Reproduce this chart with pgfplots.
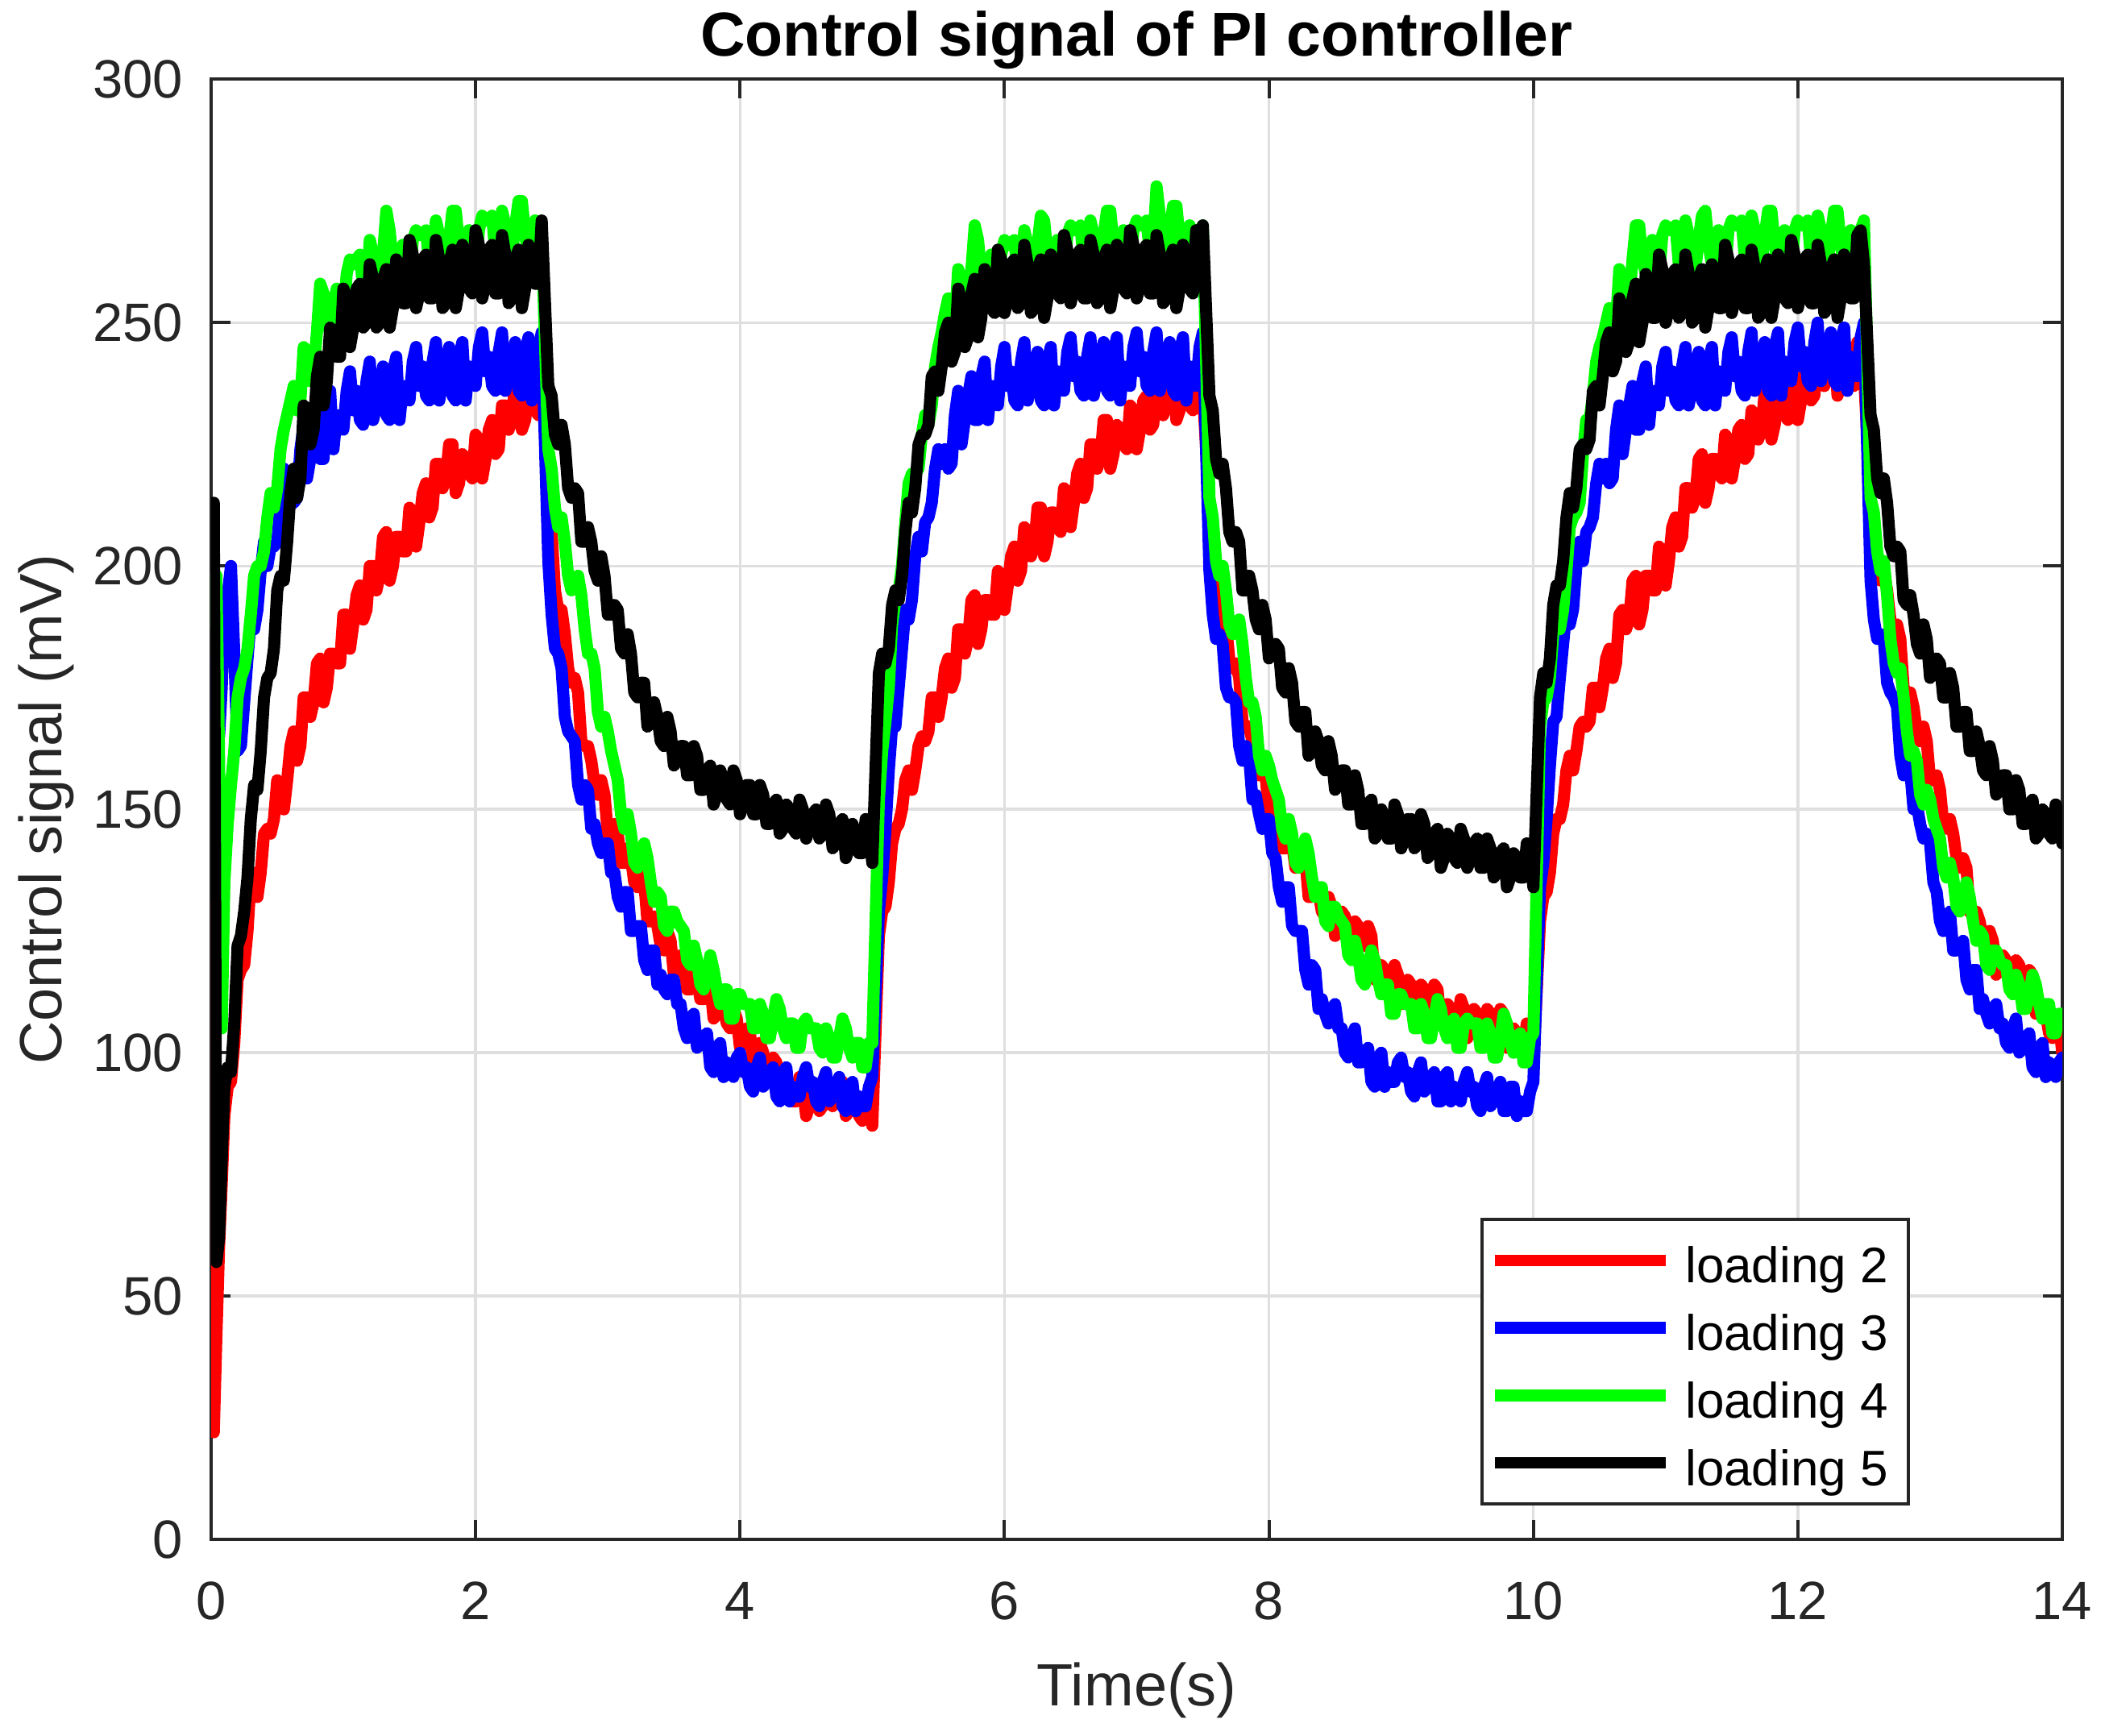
\documentclass[border=0pt]{standalone}
\usepackage{fontspec}
\setmainfont{Liberation Sans}
\usepackage{pgfplots}
\usepackage{pgfplotstable}
\pgfplotsset{compat=1.18}
\definecolor{axgray}{HTML}{262626}
\definecolor{gridgray}{HTML}{DFDFDF}
\definecolor{mred}{rgb}{1,0,0}
\definecolor{mblue}{rgb}{0,0,1}
\definecolor{mgreen}{rgb}{0,1,0}

\pgfplotstableread{
t r b g k
0.00 130 170 190 195
0.02 22 180 197 213
0.04 42 172 198 57
0.06 60 165 160 62
0.08 73 175 105 78
0.10 87 190 135 93
0.125 93 194 147 97
0.15 94 200 155 96
0.175 102 182 162 106
0.20 115 162 173 122
0.225 117 163 177 124
0.25 118 172 179 129
0.275 125 181 183 136
0.30 136 189 190 148
0.325 137 187 198 155
0.35 132 191 200 154
0.375 137 199 200 162
0.40 145 205 203 173
0.425 146 200 210 177
0.45 145 204 215 178
0.475 148 204 212 183
0.50 156 205 216 195
0.525 155 213 224 198
0.55 150 220 228 197
0.575 156 216 231 205
0.60 163 218 234 215
0.625 166 213 237 220
0.65 160 214 232 214
0.675 163 224 234 218
0.70 173 229 245 233
0.725 173 218 244 232
0.75 169 222 238 225
0.775 172 227 240 228
0.80 180 231 248 239
0.825 181 222 258 243
0.85 172 222 256 233
0.875 175 232 250 238
0.90 182 236 248 249
0.925 182 224 254 248
0.95 180 231 257 243
0.975 180 229 248 243
1.00 190 228 250 257
1.025 190 236 260 255
1.05 183 240 263 245
1.075 188 232 262 249
1.10 194 236 263 257
1.125 196 230 264 258
1.15 189 229 257 249
1.175 191 238 257 250
1.20 200 242 267 262
1.225 200 230 264 259
1.25 195 233 256 249
1.275 198 237 257 250
1.30 206 241 264 259
1.325 207 231 273 261
1.35 197 230 269 249
1.375 200 240 262 253
1.40 206 243 259 263
1.425 206 230 264 261
1.45 203 237 266 254
1.475 203 235 256 254
1.50 212 234 258 267
1.525 211 242 267 264
1.55 204 245 269 253
1.575 209 237 268 256
1.60 215 241 268 263
1.625 217 235 269 264
1.65 210 234 262 255
1.675 212 242 262 255
1.70 221 246 271 267
1.725 221 234 268 263
1.75 216 238 260 253
1.775 218 242 261 254
1.80 225 245 267 262
1.825 225 235 273 265
1.85 215 234 273 253
1.875 217 243 266 257
1.90 223 246 262 266
1.925 222 234 267 264
1.95 219 241 269 257
1.975 218 238 259 256
2.00 227 237 260 269
2.025 226 245 269 266
2.05 218 248 272 255
2.075 222 240 271 258
2.10 228 243 271 265
2.125 230 237 272 266
2.15 223 236 264 256
2.175 224 244 264 256
2.20 233 248 273 268
2.225 233 236 270 264
2.25 228 239 263 254
2.275 230 243 264 255
2.30 238 246 270 263
2.325 238 236 275 265
2.35 228 235 275 253
2.375 230 244 268 257
2.40 236 247 264 266
2.425 235 234 269 264
2.45 232 241 271 258
2.475 231 244 264 258
2.50 240 248 268 271
2.55 214 201 224 237
2.575 207 190 220 235
2.60 195 183 212 227
2.625 191 182 208 225
2.65 191 179 210 229
2.675 186 169 205 225
2.70 179 166 198 216
2.725 176 165 195 214
2.75 177 164 196 216
2.775 174 155 198 215
2.80 164 152 194 205
2.825 163 155 187 205
2.85 163 154 182 208
2.875 160 146 182 205
2.90 155 147 179 199
2.925 153 143 170 197
2.95 156 141 167 202
2.975 153 143 169 198
3.00 145 143 166 190
3.025 145 137 162 190
3.05 147 137 159 192
3.075 145 132 156 191
3.10 139 130 149 183
3.125 139 133 146 182
3.15 142 133 149 186
3.175 140 125 145 182
3.20 135 125 139 174
3.225 134 126 138 173
3.25 137 126 140 176
3.275 135 119 143 176
3.30 127 117 140 167
3.325 127 121 135 168
3.35 128 121 131 172
3.375 126 114 133 169
3.40 122 116 132 164
3.425 121 113 126 163
3.45 125 112 125 169
3.475 123 115 129 166
3.50 116 115 129 159
3.525 117 110 127 160
3.55 120 110 126 163
3.575 119 105 125 163
3.60 113 103 119 157
3.625 113 107 118 157
3.65 117 108 122 163
3.675 115 101 119 161
3.70 111 102 114 154
3.725 111 103 113 154
3.75 115 104 116 158
3.775 114 97 120 159
3.80 107 96 117 151
3.825 108 101 113 153
3.85 110 102 110 158
3.875 109 95 113 156
3.90 106 98 113 152
3.925 105 96 107 151
3.95 109 95 107 158
3.975 107 99 112 156
4.00 101 100 112 149
4.025 102 96 110 151
4.05 105 97 110 155
4.075 104 93 110 155
4.10 98 92 105 149
4.125 98 97 105 149
4.15 102 99 110 155
4.175 100 93 108 153
4.20 96 94 103 147
4.225 96 96 103 147
4.25 99 97 107 151
4.275 98 91 111 152
4.30 91 90 109 145
4.325 92 96 105 146
4.35 94 97 103 151
4.375 93 90 106 150
4.40 90 93 106 146
4.425 90 91 101 145
4.45 95 91 101 152
4.475 93 95 106 150
4.50 87 97 107 144
4.525 89 93 105 146
4.55 93 94 105 149
4.575 93 90 105 150
4.60 88 89 101 144
4.625 89 94 100 145
4.65 93 96 105 151
4.675 92 90 103 149
4.70 89 91 99 142
4.725 90 93 99 143
4.75 94 95 103 147
4.775 94 89 107 148
4.80 87 88 105 140
4.825 88 93 101 142
4.85 90 94 99 147
4.875 90 88 102 145
4.90 87 91 102 141
4.925 86 89 97 141
4.95 91 89 97 148
4.975 90 93 102 146
5.00 85 95 102 139
5.05 124 129 152 178
5.075 129 136 162 182
5.10 130 146 168 180
5.125 135 158 175 183
5.15 143 167 188 192
5.175 146 167 193 195
5.20 147 175 195 193
5.225 150 183 200 198
5.25 156 191 209 207
5.275 158 189 217 213
5.30 154 193 219 211
5.325 158 202 219 216
5.35 163 206 220 225
5.375 165 203 227 227
5.40 164 209 231 227
5.425 166 210 229 229
5.45 173 213 233 239
5.475 173 220 241 240
5.50 169 224 245 236
5.525 173 221 248 241
5.55 179 224 252 248
5.575 181 220 255 250
5.60 175 221 249 242
5.625 177 231 250 244
5.65 187 236 261 257
5.675 187 225 259 254
5.70 182 230 252 245
5.725 185 235 254 247
5.75 193 239 261 256
5.775 194 230 270 259
5.80 184 230 267 247
5.825 187 239 260 251
5.85 193 242 256 261
5.875 193 230 261 259
5.90 190 237 264 253
5.925 190 234 254 252
5.95 199 233 255 265
5.975 198 241 264 263
6.00 191 245 267 252
6.025 196 237 266 255
6.05 202 240 266 262
6.075 204 234 267 263
6.10 197 233 260 253
6.125 199 242 260 254
6.15 208 246 269 266
6.175 207 234 266 262
6.20 202 237 258 252
6.225 204 241 259 253
6.25 212 244 266 261
6.275 212 234 272 263
6.30 202 233 271 251
6.325 205 242 264 255
6.35 211 245 260 264
6.375 211 233 265 262
6.40 208 240 267 256
6.425 207 237 257 255
6.45 216 236 259 268
6.475 215 244 268 265
6.50 208 247 270 254
6.525 213 239 269 257
6.55 219 242 269 264
6.575 221 236 270 265
6.60 214 235 262 255
6.625 216 243 262 255
6.65 225 247 271 267
6.675 225 235 268 264
6.70 220 239 261 254
6.725 222 243 262 255
6.75 230 246 268 263
6.775 230 236 273 265
6.80 220 235 273 253
6.825 223 244 266 257
6.85 229 247 262 266
6.875 228 234 267 264
6.90 225 241 269 257
6.925 224 238 259 256
6.95 233 237 260 269
6.975 232 245 269 266
7.00 224 248 271 255
7.025 228 240 270 258
7.05 234 243 270 265
7.075 235 237 271 266
7.10 228 236 264 256
7.125 229 244 266 256
7.15 238 248 278 268
7.175 237 236 272 264
7.20 231 239 262 254
7.225 233 243 263 255
7.25 240 246 269 263
7.275 240 236 274 265
7.30 230 235 274 253
7.325 232 244 267 257
7.35 237 247 263 266
7.375 236 234 268 264
7.40 233 241 270 257
7.425 232 238 260 256
7.45 241 237 261 269
7.475 242 245 269 266
7.50 236 248 270 270
7.55 212 199 214 235
7.575 206 190 210 232
7.60 195 185 201 222
7.625 192 186 198 219
7.65 192 184 200 221
7.675 188 175 195 216
7.70 181 173 188 207
7.725 179 173 186 205
7.75 180 172 187 207
7.775 177 163 189 205
7.80 168 160 184 195
7.825 167 163 177 195
7.85 167 161 172 198
7.875 164 152 172 195
7.90 159 153 169 189
7.925 157 149 161 187
7.95 160 146 158 192
7.975 157 148 161 189
8.00 149 148 159 181
8.025 149 141 156 182
8.05 151 140 154 184
8.075 149 134 152 183
8.10 142 131 146 175
8.125 142 134 144 174
8.15 145 134 148 179
8.175 143 126 145 176
8.20 138 125 139 168
8.225 138 125 138 167
8.25 141 125 140 170
8.275 140 117 144 170
8.30 132 114 141 161
8.325 132 118 136 162
8.35 134 117 132 166
8.375 133 109 134 164
8.40 129 111 134 159
8.425 128 108 127 158
8.45 132 106 126 164
8.475 130 109 130 161
8.50 124 110 130 154
8.525 126 105 128 155
8.55 129 105 127 158
8.575 128 100 126 158
8.60 123 99 120 151
8.625 123 103 119 151
8.65 127 105 123 157
8.675 126 98 120 154
8.70 122 98 115 147
8.725 122 100 114 147
8.75 126 101 117 151
8.775 124 94 121 152
8.80 115 93 119 144
8.825 116 99 115 145
8.85 118 100 112 150
8.875 117 93 114 148
8.90 114 96 114 144
8.925 113 94 108 144
8.95 118 94 108 151
8.975 116 98 112 149
9.00 110 99 112 142
9.025 112 95 110 144
9.05 115 96 110 148
9.075 114 92 110 148
9.10 109 91 105 142
9.125 110 96 105 143
9.15 114 98 110 149
9.175 113 92 108 147
9.20 110 93 103 140
9.225 110 95 103 141
9.25 114 96 107 145
9.275 113 90 111 146
9.30 106 90 109 138
9.325 107 95 105 140
9.35 110 96 103 145
9.375 109 90 106 144
9.40 106 93 107 140
9.425 106 91 101 139
9.45 111 90 101 146
9.475 109 94 106 144
9.50 103 96 107 138
9.525 105 92 106 140
9.55 109 93 106 143
9.575 108 89 106 144
9.60 103 88 101 138
9.625 104 93 101 138
9.65 109 95 106 144
9.675 108 89 104 142
9.70 104 90 99 136
9.725 105 92 99 137
9.75 109 94 103 141
9.775 108 88 108 142
9.80 101 88 106 134
9.825 102 93 102 136
9.85 105 93 100 141
9.875 104 87 103 140
9.90 101 90 104 136
9.925 101 88 98 136
9.95 106 88 98 143
9.975 104 92 103 141
10.00 98 94 104 134
10.05 127 134 167 173
10.075 132 139 172 178
10.10 133 148 173 176
10.125 137 159 177 181
10.15 145 168 186 192
10.175 148 169 188 196
10.20 148 177 187 196
10.225 151 184 191 201
10.25 158 191 199 210
10.275 161 188 208 215
10.30 158 191 210 212
10.325 162 200 211 216
10.35 167 205 213 224
10.375 168 201 223 225
10.40 167 207 230 224
10.425 168 208 230 226
10.45 175 210 235 236
10.475 175 217 242 237
10.50 171 221 245 233
10.525 175 218 247 239
10.55 181 221 250 246
10.575 183 217 253 248
10.60 177 218 248 240
10.625 180 228 250 242
10.65 190 233 261 255
10.675 191 223 259 253
10.70 187 228 253 244
10.725 189 233 255 246
10.75 197 237 263 255
10.775 198 228 270 258
10.80 188 228 270 246
10.825 191 238 263 250
10.85 198 241 260 260
10.875 198 229 265 258
10.90 195 236 267 251
10.925 195 234 257 251
10.95 204 233 259 264
10.975 203 241 268 261
11.00 196 244 270 250
11.025 201 236 269 253
11.05 208 240 269 260
11.075 210 234 270 261
11.10 204 233 262 251
11.125 206 241 262 252
11.15 216 245 271 264
11.175 216 233 268 260
11.20 212 237 260 250
11.225 214 241 261 251
11.25 222 244 267 259
11.275 223 234 272 261
11.30 213 233 273 249
11.325 216 242 266 253
11.35 222 245 262 262
11.375 222 233 267 260
11.40 219 240 269 253
11.425 218 237 259 253
11.45 227 236 260 266
11.475 226 244 269 263
11.50 218 247 271 252
11.525 222 239 270 255
11.55 228 242 270 262
11.575 229 236 271 263
11.60 222 235 263 253
11.625 223 244 263 253
11.65 232 248 272 265
11.675 231 236 269 261
11.70 226 239 261 251
11.725 228 243 262 252
11.75 236 246 268 261
11.775 236 236 273 263
11.80 226 235 273 251
11.825 229 245 266 255
11.85 235 248 262 264
11.875 234 235 267 262
11.90 231 242 269 255
11.925 230 239 259 254
11.95 239 238 260 267
11.975 238 246 269 264
12.00 230 249 271 253
12.025 234 241 270 256
12.05 240 244 270 263
12.075 241 238 271 264
12.10 234 237 263 254
12.125 235 246 263 254
12.15 244 250 272 266
12.175 243 238 269 262
12.20 237 241 261 252
12.225 239 245 262 253
12.25 246 248 268 261
12.275 246 238 273 263
12.30 235 237 273 251
12.325 237 246 266 255
12.35 243 249 262 264
12.375 242 236 267 262
12.40 238 243 269 255
12.425 237 240 259 255
12.45 246 239 260 268
12.475 246 247 269 269
12.50 240 250 271 262
12.55 212 197 214 231
12.575 208 189 211 228
12.60 199 185 203 218
12.625 197 186 199 215
12.65 199 185 201 218
12.675 195 176 194 213
12.70 189 174 185 204
12.725 187 173 180 202
12.75 188 171 178 204
12.775 185 161 179 203
12.80 175 157 173 193
12.825 174 160 166 192
12.85 174 158 161 194
12.875 171 150 162 190
12.90 166 151 160 184
12.925 164 147 153 182
12.95 167 144 151 188
12.975 164 145 154 185
13.00 156 143 152 177
13.025 156 135 148 178
13.05 157 133 146 181
13.075 154 127 144 180
13.10 147 125 138 173
13.125 146 128 136 173
13.15 148 129 139 178
13.175 145 121 136 175
13.20 140 121 130 167
13.225 138 122 129 167
13.25 140 123 132 170
13.275 138 115 135 170
13.30 129 113 132 162
13.325 128 117 127 162
13.35 129 117 123 166
13.375 127 109 125 163
13.40 123 111 124 158
13.425 121 108 118 157
13.45 125 106 117 163
13.475 123 109 121 160
13.50 116 110 121 153
13.525 117 105 119 154
13.55 120 106 118 157
13.575 119 102 118 157
13.60 114 101 113 150
13.625 115 105 112 150
13.65 119 107 116 156
13.675 118 100 114 154
13.70 114 101 109 147
13.725 114 103 109 147
13.75 117 104 112 151
13.775 116 97 116 152
13.80 108 96 114 144
13.825 108 101 110 145
13.85 110 102 107 150
13.875 108 95 110 149
13.90 104 98 110 145
13.925 103 96 104 144
13.95 107 95 104 151
13.975 106 98 108 149
14.00 100 99 108 143
}\data

\begin{document}
\begin{tikzpicture}
\begin{axis}[
  at={(0,0)}, anchor=south west,
  scale only axis, width=459.4pt, height=362.3pt,
  xmin=0, xmax=14, ymin=0, ymax=300,
  xtick={0,2,...,14}, ytick={0,50,...,300},
  grid=major,
  major grid style={color=gridgray, line width=0.7pt},
  axis line style={color=axgray, line width=0.8pt},
  every tick/.style={color=axgray, line width=0.8pt},
  major tick length=4.8pt,
  tick align=inside,
  xtick pos=both, ytick pos=both,
  /pgf/number format/assume math mode=true,
  tick label style={font=\fontsize{13.4}{16}\selectfont, text=axgray, inner sep=0pt},
  xticklabel style={anchor=north, yshift=-10.4pt},
  yticklabel style={anchor=east, xshift=-6.8pt},
  every axis title shift=0pt,
  title={Control signal of PI controller},
  title style={at={(axis description cs:0.5,1.01573)}, anchor=base, font=\bfseries\fontsize{15.4}{18}\selectfont, inner sep=0pt},
  xlabel={Time(s)},
  xlabel style={at={(axis description cs:0.5,-0.11427)}, anchor=base, font=\fontsize{14.8}{17}\selectfont, text=axgray, inner sep=0pt},
  ylabel={Control signal (mV)},
  ylabel style={at={(axis description cs:-0.08097,0.5)}, anchor=base, rotate=0, font=\fontsize{14.8}{17}\selectfont, text=axgray, inner sep=0pt},
  legend style={at={(axis description cs:0.9177,0.0232)}, anchor=south east, draw=axgray, line width=0.8pt, fill=white, inner xsep=1.7pt, inner ysep=2.56pt, font=\fontsize{12.4}{14}\selectfont, nodes={inner ysep=0pt, inner xsep=3.3pt, text height=13.2pt, text depth=2pt}, row sep=1.56pt, column sep=0.1pt},
  legend cell align=left,
  legend image code/.code={\draw[#1, line width=2.9pt, line cap=butt] (3pt,0pt) -- (45.4pt,0pt);},
  every axis plot/.append style={line join=round, line cap=round},
]
\addplot[mred, line width=3.0pt] table[x=t,y=r]{\data};
\addlegendentry{loading 2}
\addplot[mblue, line width=3.0pt] table[x=t,y=b]{\data};
\addlegendentry{loading 3}
\addplot[mgreen, line width=3.0pt] table[x=t,y=g]{\data};
\addlegendentry{loading 4}
\addplot[black, line width=3.0pt] table[x=t,y=k]{\data};
\addlegendentry{loading 5}
\end{axis}
\pgfresetboundingbox
\path[use as bounding box] (-52.4pt,-48.8pt) rectangle (470pt,382pt);
\end{tikzpicture}
\end{document}
